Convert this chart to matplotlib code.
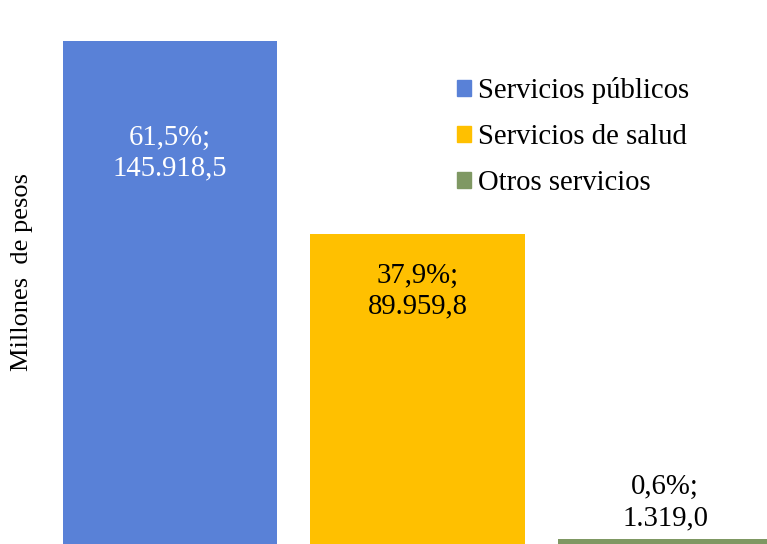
import matplotlib.pyplot as plt
import matplotlib.patches as mpatches

categorias = ['Servicios públicos', 'Servicios de salud', 'Otros servicios']
valores = [145918.5, 89959.8, 1319.0]
porcentajes = ['61,5%', '37,9%', '0,6%']
montos = ['145.918,5', '89.959,8', '1.319,0']
colores = ['#5981D7', '#FFC000', '#7F9863']
color_texto = ['white', 'black', 'black']
# desplazamiento vertical de cada etiqueta (pixeles, negativo = dentro de la barra)
offset_px = [-112, -57, 37]

plt.rcParams['font.family'] = ['Liberation Serif', 'DejaVu Serif']
fs = 20.7

fig = plt.figure(figsize=(7.67, 5.44), dpi=100)
ax = fig.add_axes([0, 0, 1, 1])

x = list(range(len(categorias)))
ax.bar(x, valores, width=0.868, color=colores, linewidth=0)

for i, v in enumerate(valores):
    ax.annotate('{};\n{}'.format(porcentajes[i], montos[i]), xy=(x[i], v),
                xytext=(0, offset_px[i] * 72 / 100), textcoords='offset points',
                ha='center', va='center', fontsize=fs, color=color_texto[i],
                linespacing=1.25)

ax.set_xlim(-0.687, 2.412)
ax.set_ylim(0, 145918.5 * 544 / 503)
ax.axis('off')

fig.text(22 / 767, 0.5, 'Millones  de pesos', rotation=90, ha='center', va='center',
         fontsize=19)

handles = [mpatches.Patch(color=c, label=l) for c, l in zip(colores, categorias)]
fig.legend(handles=handles, loc='upper left', bbox_to_anchor=(457 / 767, 1 - 77 / 544),
           frameon=False, fontsize=fs, handlelength=0.49, handleheight=0.49,
           handletextpad=0.25, labelspacing=0.7, borderpad=0, borderaxespad=0)

fig.savefig('out.png', dpi=100)
